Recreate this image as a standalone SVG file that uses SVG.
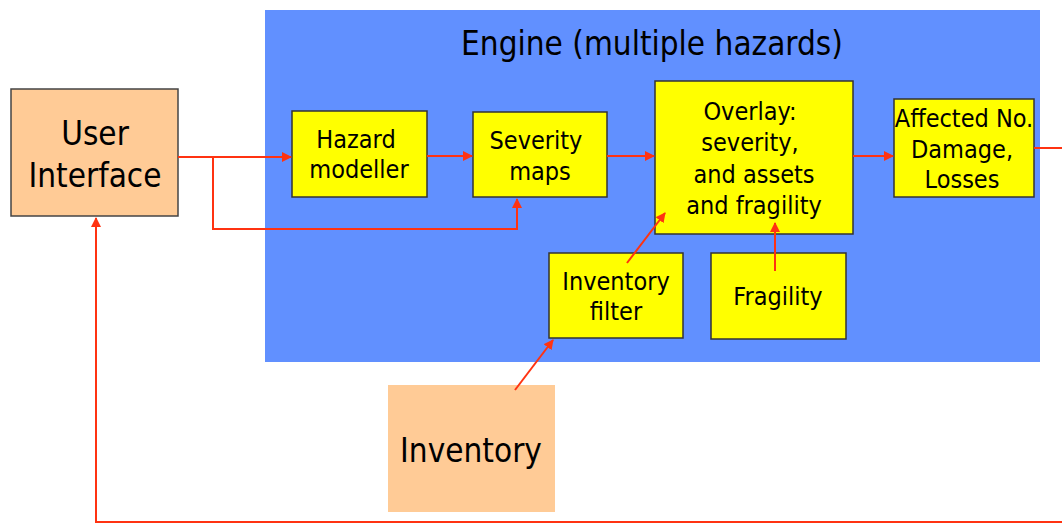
<svg xmlns="http://www.w3.org/2000/svg" width="1062" height="525" viewBox="0 0 1062 525">
  <defs>
    <marker id="arr" viewBox="0 0 10 10" refX="9" refY="5" markerWidth="10" markerHeight="10" markerUnits="userSpaceOnUse" orient="auto">
      <path d="M0,0 L10,5 L0,10 Z" fill="#FF3311"/>
    </marker>
    <style>
      .t { font-family: "DejaVu Sans Condensed", "DejaVu Sans", sans-serif; fill: #000; text-anchor: middle; }
      .box { fill: #FFFF00; stroke: #333; stroke-width: 1.5; }
      .peach { fill: #FFCB96; }
      .ln { fill: none; stroke: #FF3311; stroke-width: 2; }
    </style>
  </defs>
  <rect width="1062" height="525" fill="#fff"/>

  <g id="engine">
    <rect x="265" y="10" width="775" height="352" fill="#6190FF"/>
    <text class="t" x="652" y="55" font-size="33">Engine (multiple hazards)</text>
  </g>

  <g id="user-interface">
    <rect class="peach" x="11" y="89" width="167" height="127" stroke="#444" stroke-width="1.5"/>
    <text class="t" x="95" y="145" font-size="33">User</text>
    <text class="t" x="95" y="187" font-size="33">Interface</text>
  </g>

  <g id="hazard-modeller">
    <rect class="box" x="292" y="111" width="135" height="86"/>
    <text class="t" x="356" y="148" font-size="25">Hazard</text>
    <text class="t" x="359" y="178" font-size="25">modeller</text>
  </g>

  <g id="severity-maps">
    <rect class="box" x="473" y="112" width="134" height="85"/>
    <text class="t" x="536" y="149" font-size="25">Severity</text>
    <text class="t" x="540" y="180" font-size="25">maps</text>
  </g>

  <g id="overlay">
    <rect class="box" x="655" y="81" width="198" height="153"/>
    <text class="t" x="750" y="120" font-size="25">Overlay:</text>
    <text class="t" x="750" y="151" font-size="25">severity,</text>
    <text class="t" x="754" y="183" font-size="25">and assets</text>
    <text class="t" x="754" y="214" font-size="25">and fragility</text>
  </g>

  <g id="affected">
    <rect class="box" x="894" y="99" width="140" height="98"/>
    <text class="t" x="964" y="127" font-size="25">Affected No.</text>
    <text class="t" x="962" y="158" font-size="25">Damage,</text>
    <text class="t" x="962" y="188" font-size="25">Losses</text>
  </g>

  <g id="inventory-filter">
    <rect class="box" x="549" y="253" width="134" height="85"/>
    <text class="t" x="616" y="290" font-size="25">Inventory</text>
    <text class="t" x="616" y="320" font-size="25">filter</text>
  </g>

  <g id="fragility">
    <rect class="box" x="711" y="253" width="135" height="86"/>
    <text class="t" x="778" y="305" font-size="25">Fragility</text>
  </g>

  <g id="inventory">
    <rect class="peach" x="388" y="385" width="167" height="127"/>
    <text class="t" x="471" y="462" font-size="33">Inventory</text>
  </g>

  <g id="connectors">
    <path class="ln" d="M178,157 H291" marker-end="url(#arr)"/>
    <path class="ln" d="M213,157 V229 H517 V199" marker-end="url(#arr)"/>
    <path class="ln" d="M427,156 H472" marker-end="url(#arr)"/>
    <path class="ln" d="M607,156 H654" marker-end="url(#arr)"/>
    <path class="ln" d="M853,156 H893" marker-end="url(#arr)"/>
    <path class="ln" d="M1034,148 H1062"/>
    <path class="ln" d="M1062,522 H96 V218" marker-end="url(#arr)"/>
    <path class="ln" d="M515,390 L553,340" marker-end="url(#arr)"/>
    <path class="ln" d="M627,263 L665,213" marker-end="url(#arr)"/>
    <path class="ln" d="M775,271 V223" marker-end="url(#arr)"/>
  </g>
</svg>
